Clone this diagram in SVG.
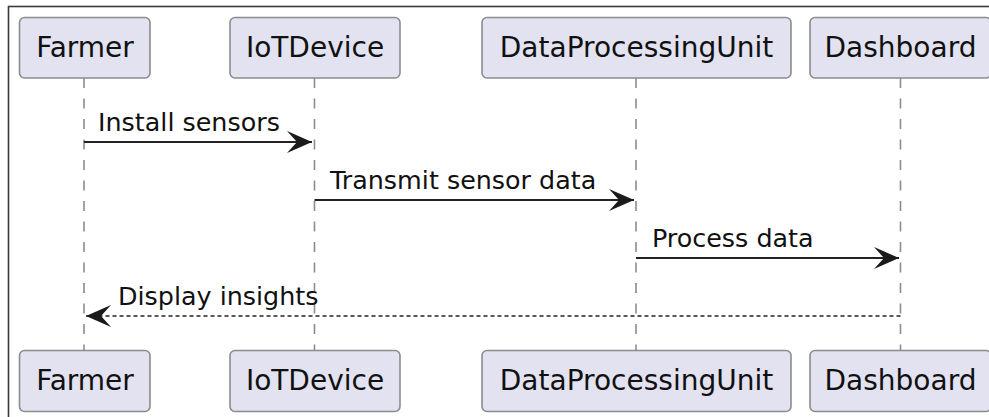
<svg xmlns="http://www.w3.org/2000/svg" width="989" height="417" viewBox="0 0 989 417">
  <defs>
    <style>
      .frame { fill: none; stroke: #3a3a3a; stroke-width: 1.6; }
      .box { fill: #E2E2F0; stroke: #8c8c8c; stroke-width: 1.6; }
      .ptext { font-family: "DejaVu Sans", sans-serif; font-size: 28px; fill: #111; text-anchor: middle; }
      .mtext { font-family: "DejaVu Sans", sans-serif; font-size: 25.4px; fill: #111; }
      .life { stroke: #8c8c8c; stroke-width: 1.6; stroke-dasharray: 10 10.5; fill: none; }
      .msg { stroke: #222; stroke-width: 2; fill: none; }
      .ret { stroke: #222; stroke-width: 1.6; stroke-dasharray: 4 3; fill: none; }
    </style>
    <marker id="arrow" markerUnits="userSpaceOnUse" viewBox="0 0 26 24" refX="25" refY="12" markerWidth="26" markerHeight="24" orient="auto-start-reverse">
      <path d="M0,1 L25,12 L0,23 L10,12 Z" fill="#1a1a1a"/>
    </marker>
  </defs>

  <rect class="frame" x="8.5" y="6.5" width="1000" height="500"/>

  <!-- lifelines -->
  <g id="lifelines">
    <line class="life" x1="84" y1="78" x2="84" y2="350"/>
    <line class="life" x1="314.5" y1="78" x2="314.5" y2="350"/>
    <line class="life" x1="636" y1="78" x2="636" y2="350"/>
    <line class="life" x1="900.5" y1="78" x2="900.5" y2="350"/>
  </g>

  <!-- participants (head and foot) -->
  <g id="farmer">
    <rect class="box" x="19.5" y="17.5" width="130.5" height="60.5" rx="5"/>
    <text class="ptext" x="85" y="57">Farmer</text>
    <rect class="box" x="19.5" y="350.5" width="130.5" height="61" rx="5"/>
    <text class="ptext" x="85" y="390">Farmer</text>
  </g>
  <g id="iotdevice">
    <rect class="box" x="230" y="17.5" width="170" height="60.5" rx="5"/>
    <text class="ptext" x="315" y="57">IoTDevice</text>
    <rect class="box" x="230" y="350.5" width="170" height="61" rx="5"/>
    <text class="ptext" x="315" y="390">IoTDevice</text>
  </g>
  <g id="dataprocessingunit">
    <rect class="box" x="482" y="17.5" width="309" height="60.5" rx="5"/>
    <text class="ptext" x="636.5" y="57">DataProcessingUnit</text>
    <rect class="box" x="482" y="350.5" width="309" height="61" rx="5"/>
    <text class="ptext" x="636.5" y="390">DataProcessingUnit</text>
  </g>
  <g id="dashboard">
    <rect class="box" x="810" y="17.5" width="181" height="60.5" rx="5"/>
    <text class="ptext" x="900.5" y="57">Dashboard</text>
    <rect class="box" x="810" y="350.5" width="181" height="61" rx="5"/>
    <text class="ptext" x="900.5" y="390">Dashboard</text>
  </g>

  <!-- messages -->
  <g id="connectors">
    <line class="msg" x1="84" y1="142" x2="312" y2="142" marker-end="url(#arrow)"/>
    <text class="mtext" x="98" y="131">Install sensors</text>

    <line class="msg" x1="314.5" y1="200" x2="634" y2="200" marker-end="url(#arrow)"/>
    <text class="mtext" x="330" y="189">Transmit sensor data</text>

    <line class="msg" x1="636" y1="258" x2="899" y2="258" marker-end="url(#arrow)"/>
    <text class="mtext" x="652" y="247">Process data</text>

    <line class="ret" x1="900.5" y1="316" x2="86" y2="316" marker-end="url(#arrow)"/>
    <text class="mtext" x="118" y="305">Display insights</text>
  </g>
</svg>
